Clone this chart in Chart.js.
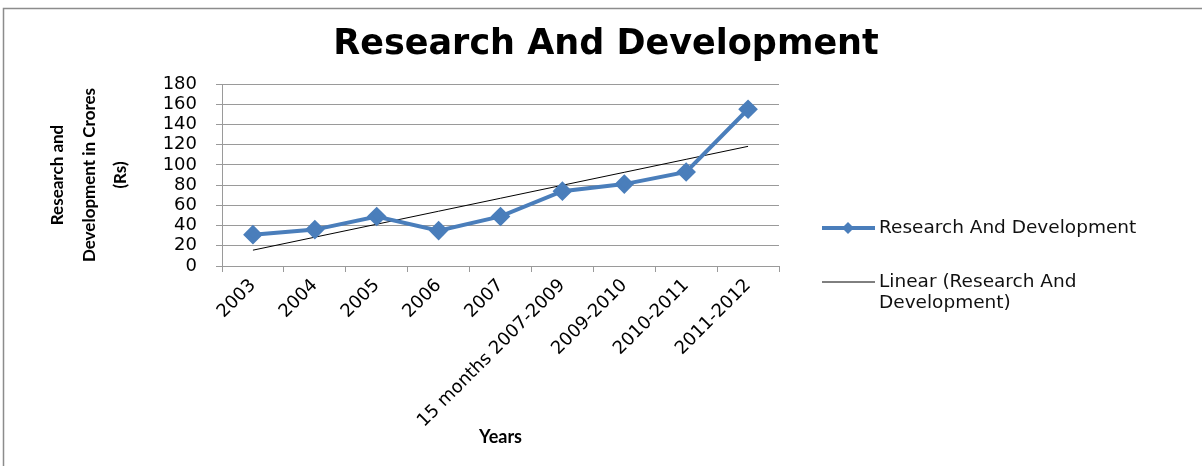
<!DOCTYPE html>
<html>
<head>
<meta charset="utf-8">
<script src="https://cdn.jsdelivr.net/npm/chart.js@4.4.1/dist/chart.umd.min.js"></script>
<style>
  body { margin: 0; background: #fff; }
  #wrap { width: 1202px; height: 466px; position: relative; }
</style>
</head>
<body>
<div id="wrap"><canvas id="myChart"></canvas></div>
<script>
// data
const labels = ['2003', '2004', '2005', '2006', '2007', '15 months 2007-2009', '2009-2010', '2010-2011', '2011-2012'];
const rdValues = [31, 36, 49, 35, 49, 74, 81, 93, 155];
const yMin = 0;
const yMax = 180;
const yStep = 20;
const seriesName = 'Research And Development';
const trendName = 'Linear (Research And Development)';

const blue = '#4A7EBB';
const gridGray = '#9a9a9a';

// least squares trendline, like excel does it
function linearTrend(values) {
  const n = values.length;
  let sx = 0, sy = 0, sxy = 0, sxx = 0;
  values.forEach((v, i) => {
    const x = i + 1;
    sx += x; sy += v; sxy += x * v; sxx += x * x;
  });
  const slope = (n * sxy - sx * sy) / (n * sxx - sx * sx);
  const icpt = (sy - slope * sx) / n;
  return values.map((v, i) => icpt + slope * (i + 1));
}

const frame = {
  id: 'frame',
  beforeDraw(chart) {
    const ctx = chart.ctx;
    ctx.save();
    ctx.fillStyle = '#fff';
    ctx.fillRect(0, 0, chart.width, chart.height);
    ctx.strokeStyle = '#8c8c8c';
    ctx.lineWidth = 1.5;
    ctx.strokeRect(3.5, 8.5, chart.width + 20, chart.height + 20);
    ctx.restore();
  }
};

function wrapText(ctx, text, maxW) {
  const words = text.split(' ');
  const lines = [];
  let cur = '';
  words.forEach(w => {
    const test = cur ? cur + ' ' + w : w;
    if (ctx.measureText(test).width > maxW && cur) {
      lines.push(cur);
      cur = w;
    } else {
      cur = test;
    }
  });
  if (cur) lines.push(cur);
  return lines;
}

// legend on the right, second entry wraps like in the original
const sideLegend = {
  id: 'sideLegend',
  afterDraw(chart) {
    const ctx = chart.ctx;
    const rows = [228, 282];
    ctx.save();
    ctx.font = '18.5px "DejaVu Sans"';
    ctx.textBaseline = 'middle';
    ctx.textAlign = 'left';
    chart.data.datasets.forEach((ds, i) => {
      const y = rows[i];
      ctx.strokeStyle = ds.borderColor;
      ctx.lineWidth = ds.borderWidth;
      ctx.beginPath();
      ctx.moveTo(822, y);
      ctx.lineTo(875, y);
      ctx.stroke();
      if (ds.pointRadius > 0) {
        ctx.fillStyle = ds.borderColor;
        ctx.beginPath();
        ctx.moveTo(848, y - 6);
        ctx.lineTo(854, y);
        ctx.lineTo(848, y + 6);
        ctx.lineTo(842, y);
        ctx.closePath();
        ctx.fill();
      }
      ctx.fillStyle = '#111';
      const lines = wrapText(ctx, ds.label, 310);
      lines.forEach((ln, k) => ctx.fillText(ln, 879, y + k * 21));
    });
    ctx.restore();
  }
};

const data = {
  labels: labels,
  datasets: [{
    label: seriesName,
    data: rdValues,
    borderColor: blue,
    backgroundColor: blue,
    borderWidth: 4,
    pointStyle: 'rectRot',
    pointRadius: 7,
    pointHoverRadius: 7,
    tension: 0
  }, {
    label: trendName,
    data: linearTrend(rdValues),
    borderColor: '#000',
    backgroundColor: '#000',
    borderWidth: 1,
    pointRadius: 0,
    tension: 0
  }]
};

const config = {
  type: 'line',
  data: data,
  plugins: [frame, sideLegend],
  options: {
    responsive: true,
    maintainAspectRatio: false,
    animation: false,
    layout: { padding: { left: 10, right: 0, top: 0, bottom: 0 } },
    plugins: {
      legend: { display: false },
      tooltip: { enabled: false },
      title: {
        display: true,
        text: 'Research And Development',
        color: '#000',
        font: { family: 'DejaVu Sans', size: 35, weight: 'bold', lineHeight: 1.2 },
        padding: { top: 24, bottom: 18 }
      }
    },
    scales: {
      x: {
        offset: true,
        grid: { offset: true, drawOnChartArea: false, drawTicks: true, tickLength: 6, color: gridGray },
        border: { color: gridGray },
        ticks: {
          autoSkip: false,
          minRotation: 45,
          maxRotation: 45,
          padding: 3,
          color: '#000',
          font: { family: 'DejaVu Sans', size: 18 }
        },
        title: {
          display: true,
          text: 'Years',
          color: '#000',
          font: { family: 'Lato', size: 18, weight: 'bold' },
          padding: { top: 0, bottom: 18 }
        },
        afterFit: (s) => { s.height = 200; }
      },
      y: {
        min: yMin,
        max: yMax,
        grid: { color: gridGray, tickLength: 6 },
        border: { color: gridGray },
        ticks: {
          stepSize: yStep,
          autoSkip: false,
          padding: 19,
          color: '#000',
          font: { family: 'DejaVu Sans', size: 18 }
        },
        title: {
          display: true,
          text: ['Research and', 'Development in Crores', '(Rs)'],
          color: '#000',
          font: { family: 'Lato', size: 17, weight: 'bold', lineHeight: 1.85 },
          padding: { top: 32, bottom: 0 }
        },
        afterFit: (s) => { s.width = 212; }
      },
      // empty axis on the right, only keeps room for the legend
      yRoom: {
        position: 'right',
        display: true,
        grid: { display: false },
        border: { display: false },
        ticks: { display: false },
        afterFit: (s) => { s.width = 423; }
      }
    }
  }
};

const chart = new Chart(document.querySelector('#myChart'), config);
</script>
</body>
</html>
